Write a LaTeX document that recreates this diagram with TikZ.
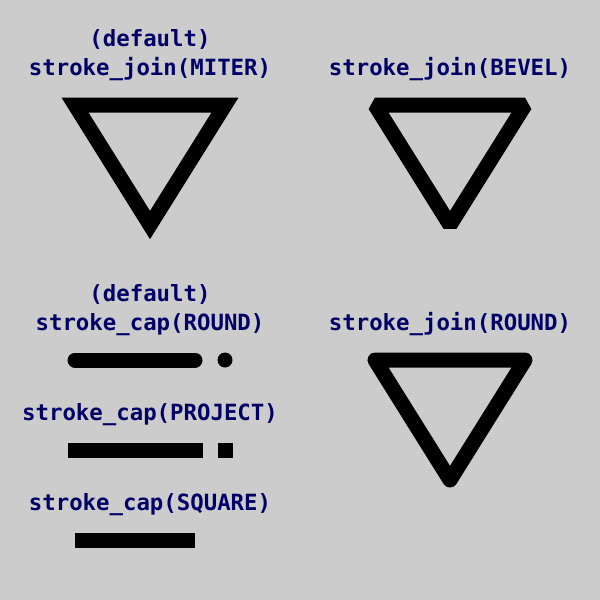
\documentclass[tikz,border=0pt]{standalone}
\usepackage{fontspec}
\newfontfamily\monofont{DejaVu Sans Mono}
\usepackage{tikz}
\definecolor{bggray}{HTML}{CCCCCC}
\definecolor{labelblue}{HTML}{000066}

\begin{document}
\begin{tikzpicture}[x=0.25mm,y=-0.25mm,
  lbl/.style={anchor=base,inner sep=0pt,text=labelblue,font=\monofont\bfseries\fontsize{15.9}{18}\selectfont},
  stroke/.style={draw=black,line width=3.75mm}]
\fill[bggray] (0,0) rectangle (600,600);
\useasboundingbox (0,0) rectangle (600,600);
% joins
\node[lbl] (miterdef) at (150,46) {(default)};
\node[lbl] (miterlbl) at (150,75) {stroke\_join(MITER)};
\draw[stroke,line join=miter] (75,105) -- (225,105) -- (150,225) -- cycle;
\node[lbl] (bevellbl) at (450,75) {stroke\_join(BEVEL)};
\draw[stroke,line join=bevel] (375,105) -- (525,105) -- (450,225) -- cycle;
\node[lbl] (roundjlbl) at (450,330) {stroke\_join(ROUND)};
\draw[stroke,line join=round] (375,360) -- (525,360) -- (450,480) -- cycle;
% caps
\node[lbl] (capdef) at (150,301) {(default)};
\node[lbl] (roundclbl) at (150,330) {stroke\_cap(ROUND)};
\draw[stroke,line cap=round] (75,360) -- (195,360);
\fill (225,360) circle (7.5);
\node[lbl] (projlbl) at (150,420) {stroke\_cap(PROJECT)};
\draw[stroke,line cap=rect] (75,450) -- (195,450);
\fill (217.5,442.5) rectangle (232.5,457.5);
\node[lbl] (squarelbl) at (150,510) {stroke\_cap(SQUARE)};
\draw[stroke,line cap=butt] (75,540) -- (195,540);
\end{tikzpicture}
\end{document}
